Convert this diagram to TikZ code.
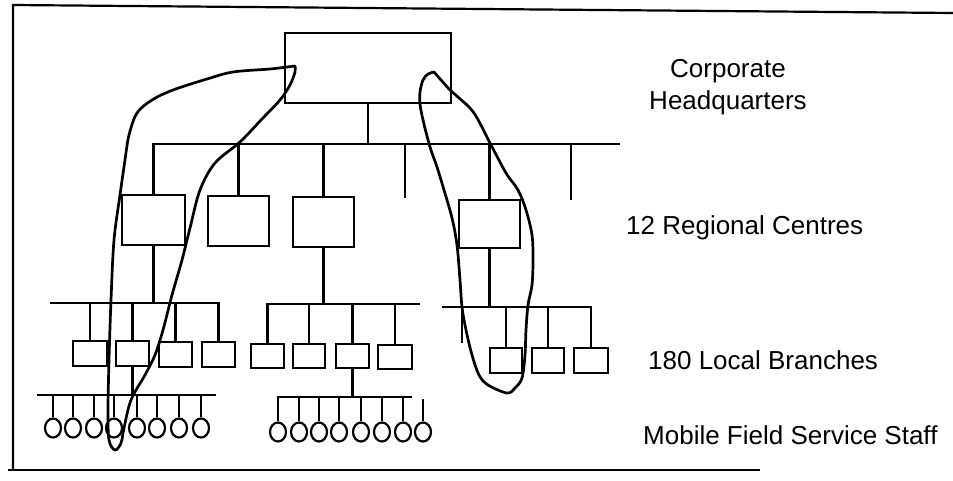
\documentclass[tikz,border=0pt]{standalone}
\usepackage{fontspec}
\setmainfont{Liberation Sans}
\usetikzlibrary{shapes.geometric}
\begin{document}
\begin{tikzpicture}[x=1pt,y=-1pt,
  struct/.style={line width=2.2pt},
  frameline/.style={line width=2.2pt},
  box/.style={draw, line width=2.2pt, inner sep=0pt, rectangle},
  staff/.style={draw, line width=2.2pt, ellipse, inner sep=0pt, minimum width=16pt, minimum height=19pt},
  hand/.style={line width=2.7pt, line cap=round, line join=round},
  lbl/.style={font=\fontsize{26}{32}\selectfont, inner sep=0pt}]
\useasboundingbox (0,0) rectangle (953,480);
% frame
\draw[frameline] (953,13) -- (13,5) -- (13,470);
\draw[frameline] (8,470) -- (760,470);
% headquarters
\node[box, minimum width=166pt, minimum height=70pt] (hq) at (368,68) {};
% regional centres
\node[box, minimum width=63pt, minimum height=50pt] (r1) at (153.5,220) {};
\node[box, minimum width=61pt, minimum height=50pt] (r2) at (238.5,221) {};
\node[box, minimum width=61pt, minimum height=50pt] (r3) at (323.5,222) {};
\node[box, minimum width=61pt, minimum height=48pt] (r4) at (489.5,224) {};
\coordinate (busR) at (620,144);
\coordinate (s1) at (405,198);
\coordinate (s2) at (571,200);
\draw[struct] (hq.south) -- (hq.south |- busR);
\draw[struct] (r1.north) |- (busR);
\foreach \n in {r2,r3,r4} \draw[struct] (\n.north) -- (\n.north |- busR);
\foreach \n in {s1,s2} \draw[struct] (\n) -- (\n |- busR);
% local branches group 1
\node[box, minimum width=34pt, minimum height=25pt] (l1a) at (90,353.5) {};
\node[box, minimum width=33pt, minimum height=25pt] (l1b) at (132.5,353.5) {};
\node[box, minimum width=33pt, minimum height=25pt] (l1c) at (175.5,354.5) {};
\node[box, minimum width=33pt, minimum height=25pt] (l1d) at (218.5,354.5) {};
\coordinate (b1L) at (50,303);
\draw[struct] (r1.south) -- (r1.south |- b1L);
\draw[struct] (b1L) -| (l1d.north);
\foreach \n in {l1a,l1b,l1c} \draw[struct] (\n.north) -- (\n.north |- b1L);
% local branches group 2
\node[box, minimum width=33pt, minimum height=24pt] (l2a) at (267.5,356) {};
\node[box, minimum width=32pt, minimum height=24pt] (l2b) at (309,356) {};
\node[box, minimum width=33pt, minimum height=24pt] (l2c) at (352.5,356) {};
\node[box, minimum width=34pt, minimum height=24pt] (l2d) at (395,357) {};
\coordinate (b2R) at (420,304);
\draw[struct] (r3.south) -- (r3.south |- b2R);
\draw[struct] (l2a.north) |- (b2R);
\foreach \n in {l2b,l2c,l2d} \draw[struct] (\n.north) -- (\n.north |- b2R);
% local branches group 3
\node[box, minimum width=32pt, minimum height=25pt] (l3a) at (506,360.5) {};
\node[box, minimum width=32pt, minimum height=25pt] (l3b) at (548,360.5) {};
\node[box, minimum width=34pt, minimum height=25pt] (l3c) at (591,360.5) {};
\coordinate (b3L) at (442,307);
\coordinate (s3) at (462,343);
\draw[struct] (r4.south) -- (r4.south |- b3L);
\draw[struct] (b3L) -| (l3c.north);
\draw[struct] (s3) -- (s3 |- b3L);
\foreach \n in {l3a,l3b} \draw[struct] (\n.north) -- (\n.north |- b3L);
% mobile staff group 1
\coordinate (m1L) at (37,395);
\coordinate (m1R) at (216,395);
\draw[struct] (m1L) -- (m1R);
\draw[struct] (l1b.south) -- (l1b.south |- m1L);
\foreach \i/\x in {1/53,2/73,3/94,4/114,5/137,6/157,7/179,8/201} {
  \node[staff] (ma\i) at (\x,428) {};
  \draw[struct] (ma\i.north) -- (ma\i.north |- m1L);
}
% mobile staff group 2
\coordinate (m2R) at (412,397);
\coordinate (m2s) at (423,399);
\foreach \i/\x in {1/278,2/299,3/319,4/339,5/361,6/382,7/403,8/423} {
  \node[staff] (mb\i) at (\x,432) {};
}
\draw[struct] (mb1.north) |- (m2R);
\draw[struct] (l2c.south) -- (l2c.south |- m2R);
\foreach \i in {2,...,7} \draw[struct] (mb\i.north) -- (mb\i.north |- m2R);
\draw[struct] (mb8.north) -- (m2s);
% hand-drawn loops
\draw[hand] plot[smooth, tension=0.55] coordinates {
  (295,66) (287,67) (270,69) (233,72) (207,79) (173,90) (152,100) (137,113)
  (129,135) (125,160) (120,195) (114,240) (111,300) (109,360) (108,410)
  (109,440) (115,450) (121,443) (124,428) (131,400) (145,375) (155,355)
  (163,330) (172,295) (182,260) (190,228) (200,190) (215,163) (240,142)
  (262,119) (280,100) (290,85) (295,72) (295,66)};
\draw[hand] plot[smooth, tension=0.55] coordinates {
  (434,72) (428,74) (423,80) (420,92) (420,104) (423,120) (430,147) (437,167)
  (444,190) (452,218) (457,245) (460,280) (462,307) (466,330) (472,355)
  (479,375) (488,385) (507,393) (515,388) (522,378) (525,355) (526,330)
  (528,305) (532,285) (533,260) (532,235) (526,210) (518,190) (506,173)
  (490,143) (474,113) (458,97) (450,90) (434,72)};
% labels
\node[lbl, align=center] (hqt) at (728,87) {Corporate\\Headquarters};
\node[lbl, anchor=west] (rct) at (626,228) {12 Regional Centres};
\node[lbl, anchor=west] (lbt) at (648,360) {180 Local Branches};
\node[lbl, anchor=west] (mft) at (643,435) {Mobile Field Service Staff};
\end{tikzpicture}
\end{document}
